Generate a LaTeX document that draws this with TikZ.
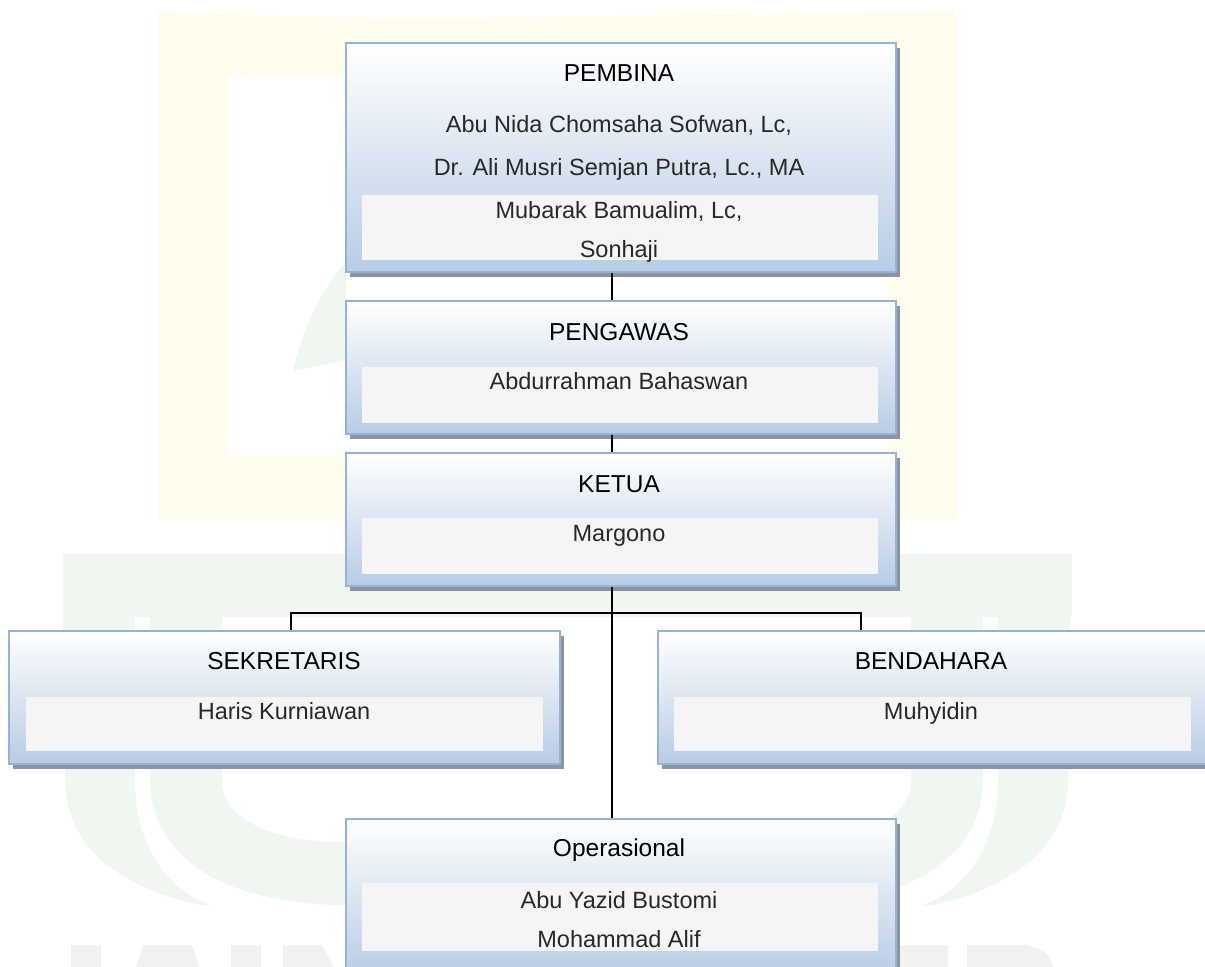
\documentclass[tikz,border=0pt]{standalone}
\usepackage{fontspec}
\setmainfont{Liberation Sans}
\usetikzlibrary{shadows}

\definecolor{boxline}{RGB}{149,179,215}
\definecolor{boxblue}{RGB}{184,204,228}
\definecolor{panelgray}{RGB}{245,245,245}
\definecolor{shadowgray}{RGB}{138,148,162}
\definecolor{namegray}{RGB}{40,40,40}
\definecolor{markyellow}{RGB}{255,252,238}
\definecolor{markgreen}{RGB}{239,247,240}
\definecolor{markgray}{RGB}{241,241,241}

\tikzset{
  orgbox/.style={draw=boxline,line width=2bp,top color=white,bottom color=boxblue,
    minimum width=550bp,inner sep=0pt,
    drop shadow={shadow xshift=4bp,shadow yshift=-5bp,fill=shadowgray,opacity=1}},
  panel/.style={fill=panelgray,inner sep=0pt,minimum width=516bp},
  title/.style={anchor=base,font=\fontsize{24.5bp}{29bp}\selectfont},
  member/.style={anchor=base,font=\fontsize{23.5bp}{28bp}\selectfont,text=namegray},
  link/.style={line width=2bp,black}
}

\begin{document}
\begin{tikzpicture}[x=1bp,y=-1bp]
\useasboundingbox (0,0) rectangle (1205,967);
% watermark in the background
\fill[markyellow,even odd rule] (158,11) .. controls (400,25) and (700,12) .. (957,11)
  -- (957,519) -- (158,519) -- cycle (228,75) rectangle (888,455);
\fill[markgreen] (293,371) .. controls (305,320) and (325,285) .. (346,262) -- (346,360) -- cycle;
\fill[markgreen] (63,554) rectangle (1072,617);
\fill[markgreen] (63,617) -- (135,617) -- (135,780) .. controls (135,850) and (170,890) .. (210,905)
  -- (200,905) .. controls (110,885) and (65,840) .. (65,780) -- cycle;
\fill[markgreen] (1070,617) -- (998,617) -- (998,780) .. controls (998,850) and (963,890) .. (923,905)
  -- (933,905) .. controls (1023,885) and (1068,840) .. (1068,780) -- cycle;
\fill[markgreen] (150,617) -- (150,780) .. controls (150,860) and (230,905) .. (345,905) -- (788,905)
  .. controls (903,905) and (983,860) .. (983,780) -- (983,617) -- (911,617) -- (911,780)
  .. controls (911,820) and (860,842) .. (788,842) -- (345,842) .. controls (273,842) and (222,820) .. (222,780)
  -- (222,617) -- cycle;
\fill[markgray] (71,945) rectangle (101,967);
\fill[markgray] (143,945) -- (192,945) -- (199,967) -- (136,967) -- cycle;
\fill[markgray] (231,945) rectangle (261,967);
\fill[markgray] (283,945) -- (322,945) -- (334,967) -- (283,967) -- cycle;
\fill[markgray] (900,945) rectangle (948,967);
\fill[markgray] (967,945) -- (1025,945) .. controls (1043,947) and (1053,958) .. (1053,967) -- (967,967) -- cycle;

% PEMBINA
\node[orgbox,minimum height=229bp] (pembina) at (621,157.5) {};
\node[panel,minimum height=65bp] (pembinaP) at (620,227.5) {};
\node[title] (pembinaT) at (619,81) {PEMBINA};
\node[member] (pembinaA) at (619,132) {Abu Nida Chomsaha Sofwan, Lc,};
\node[member] (pembinaB) at (619,175) {Dr. Ali Musri Semjan Putra, Lc., MA};
\node[member] (pembinaC) at (619,218) {Mubarak Bamualim, Lc,};
\node[member] (pembinaD) at (619,257) {Sonhaji};

% PENGAWAS
\node[orgbox,minimum height=133bp] (pengawas) at (621,367.5) {};
\node[panel,minimum height=56bp] (pengawasP) at (620,395) {};
\node[title] (pengawasT) at (619,340) {PENGAWAS};
\node[member] (pengawasA) at (619,389) {Abdurrahman Bahaswan};

% KETUA
\node[orgbox,minimum height=133bp] (ketua) at (621,519) {};
\node[panel,minimum height=56bp] (ketuaP) at (620,546) {};
\node[title] (ketuaT) at (619,492) {KETUA};
\node[member] (ketuaA) at (619,541) {Margono};

% SEKRETARIS
\node[orgbox,minimum height=133bp] (sekretaris) at (284.5,697) {};
\node[panel,minimum height=54bp,minimum width=517bp] (sekretarisP) at (284.5,724) {};
\node[title] (sekretarisT) at (284,669) {SEKRETARIS};
\node[member] (sekretarisA) at (284,719) {Haris Kurniawan};

% BENDAHARA
\node[orgbox,minimum height=133bp] (bendahara) at (932.5,697) {};
\node[panel,minimum height=54bp,minimum width=517bp] (bendaharaP) at (932,724) {};
\node[title] (bendaharaT) at (931,669) {BENDAHARA};
\node[member] (bendaharaA) at (931,719) {Muhyidin};

% Operasional
\node[orgbox,minimum height=156bp] (operasional) at (621,897) {};
\node[panel,minimum height=68bp] (operasionalP) at (620,917) {};
\node[title] (operasionalT) at (619,856) {Operasional};
\node[member] (operasionalA) at (619,908) {Abu Yazid Bustomi};
\node[member] (operasionalB) at (619,947) {Mohammad Alif};

% connectors
\coordinate (fork) at (611.5,612.5);
\draw[link] ([xshift=-9.5bp]pembina.south) -- ([xshift=-9.5bp]pengawas.north);
\draw[link] ([xshift=-9.5bp]pengawas.south) -- ([xshift=-9.5bp]ketua.north);
\draw[link] ([xshift=-9.5bp]ketua.south) -- ([xshift=-9.5bp]operasional.north);
\draw[link] ([xshift=6bp]sekretaris.north) |- (fork) -| ([xshift=-71.5bp]bendahara.north);
\end{tikzpicture}
\end{document}
